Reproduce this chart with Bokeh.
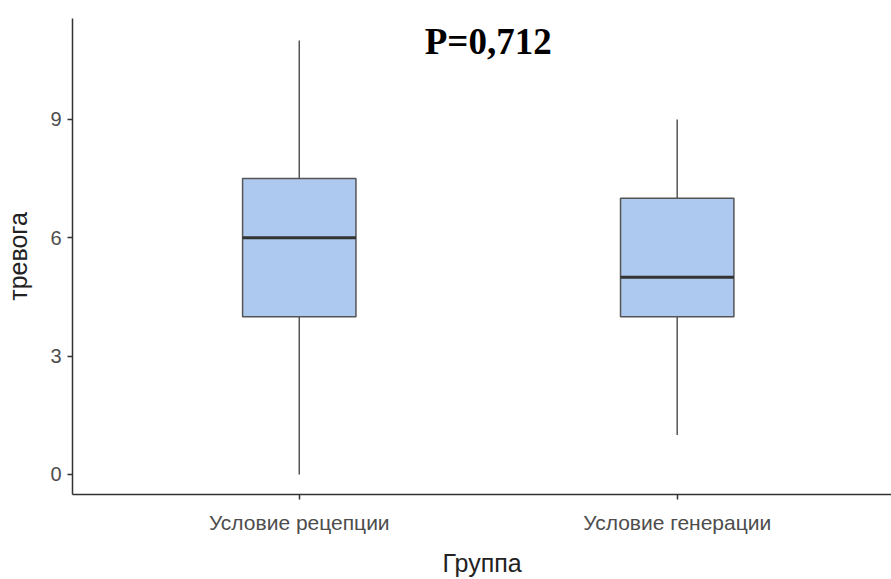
from bokeh.plotting import figure
from bokeh.models import ColumnDataSource, Range1d, FixedTicker, Label
from bokeh.transform import dodge
from bokeh.embed import file_html
from bokeh.resources import INLINE

# ---- data ----
categories = ["Условие рецепции", "Условие генерации"]
q_min = [0, 1]
q1 = [4, 4]
median = [6, 5]
q3 = [7.5, 7]
q_max = [11, 9]
y_ticks = [0, 3, 6, 9]
p_label = "P=0,712"
x_title = "Группа"
y_title = "тревога"

xs = [i + 1 for i in range(len(categories))]
src = ColumnDataSource(dict(x=xs, lo=q_min, q1=q1, med=median, q3=q3, hi=q_max))

BOX_W = 0.3
p = figure(width=891, height=579, output_backend="svg", toolbar_location=None,
           x_range=Range1d(0.4, 2.567), y_range=Range1d(-0.51, 11.56),
           min_border_left=72, min_border_right=0, min_border_top=18, min_border_bottom=85)
p.outline_line_color = None
p.xgrid.visible = False
p.ygrid.visible = False
p.background_fill_color = "white"
p.border_fill_color = "white"

# whiskers
p.segment(x0="x", y0="q3", x1="x", y1="hi", source=src, line_color="#555555", line_width=1.5)
p.segment(x0="x", y0="q1", x1="x", y1="lo", source=src, line_color="#555555", line_width=1.5)
# boxes
p.vbar(x="x", width=BOX_W, bottom="q1", top="q3", source=src,
       fill_color="#aec9f0", line_color="#555555", line_width=1.5)
# median
p.segment(x0=dodge("x", -BOX_W / 2), y0="med", x1=dodge("x", BOX_W / 2), y1="med",
          source=src, line_color="#333333", line_width=3)

# axes
for ax in (p.xaxis[0], p.yaxis[0]):
    ax.axis_line_color = "#333333"
    ax.axis_line_width = 1.5
    ax.major_tick_line_color = "#333333"
    ax.major_tick_line_width = 1.5
    ax.major_tick_in = 0
    ax.major_tick_out = 5
    ax.minor_tick_line_color = None
    ax.major_label_text_color = "#4d4d4d"
    ax.major_label_text_font = "Liberation Sans"
    ax.axis_label_text_font = "Liberation Sans"
    ax.axis_label_text_font_style = "normal"
    ax.axis_label_text_color = "#222222"

p.xaxis.ticker = FixedTicker(ticks=xs)
p.xaxis.major_label_overrides = {x: c for x, c in zip(xs, categories)}
p.xaxis.major_label_text_font_size = "21px"
p.xaxis.major_label_standoff = 11
p.xaxis.axis_label = x_title
p.xaxis.axis_label_text_font_size = "25px"
p.xaxis.axis_label_standoff = 12

p.yaxis.ticker = FixedTicker(ticks=y_ticks)
p.yaxis.major_label_text_font_size = "20px"
p.yaxis.major_label_standoff = 6
p.yaxis.axis_label = y_title
p.yaxis.axis_label_text_font_size = "25px"
p.yaxis.axis_label_standoff = 15

p.add_layout(Label(x=1.5, y=10.98, text=p_label, text_align="center", text_baseline="middle",
                   text_font="Liberation Serif", text_font_style="bold",
                   text_font_size="37px", text_color="black"))

open("out.html", "w").write(file_html(p, INLINE))
